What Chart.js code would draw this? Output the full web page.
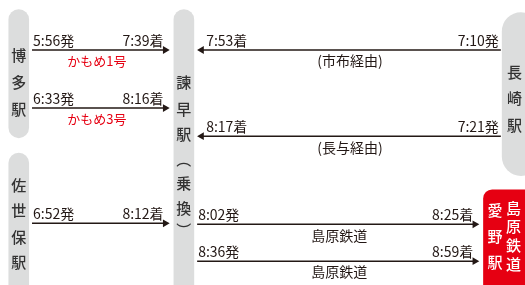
<!DOCTYPE html>
<html>
<head>
<meta charset="utf-8">
<script src="https://cdn.jsdelivr.net/npm/chart.js@4.4.1/dist/chart.umd.min.js"></script>
<style>
  html, body { margin: 0; padding: 0; background: #fff; }
  canvas { display: block; }
</style>
</head>
<body>
<canvas id="routeChart" width="525" height="285"></canvas>
<script>
// 乗り継ぎデータ
const tripFrom    = ['博多駅', '博多駅', '佐世保駅', '長崎駅', '長崎駅', '諫早駅', '諫早駅'];
const tripTo      = ['諫早駅', '諫早駅', '諫早駅', '諫早駅', '諫早駅', '愛野駅', '愛野駅'];
const departTimes = ['5:56', '6:33', '6:52', '7:10', '7:21', '8:02', '8:36'];
const arriveTimes = ['7:39', '8:16', '8:12', '7:53', '8:17', '8:25', '8:59'];
const tripNotes   = ['かもめ1号', 'かもめ3号', '', '(市布経由)', '(長与経由)', '島原鉄道', '島原鉄道'];
const noteIsTrain = [true, true, false, false, false, false, false];

// 駅名（縦書き）
const stationNames = ['博多駅', '佐世保駅', '諫早駅（乗換）', '長崎駅', '愛野駅'];
const lineName = '島原鉄道';

// レイアウト（描画位置・大きさ）
const boxes = {
  '博多駅':   { x0: 4,   x1: 25,  y0: 5,   y1: 138, chars: [52, 80, 108] },
  '佐世保駅': { x0: 4,   x1: 25,  y0: 153, y1: 300, chars: [187, 213, 240, 266] },
  '諫早駅（乗換）': { x0: 172, x1: 193, y0: 5, y1: 300, chars: [80, 108, 134, 160, 185, 210, 233] },
  '長崎駅':   { x0: 506, x1: 545, y0: 8,   y1: 177, chars: [70, 97, 125], cx: 519 },
  '愛野駅':   { x0: 487, x1: 545, y0: 191, y1: 300, chars: [212, 239, 266], cx: 499, red: true }
};
const lineNameChars = [210, 229, 249, 268];
const rowY = [47, 107, 226, 47, 136, 227, 265];

const INK = '#231815';
const RED = '#e60012';
const GRAY = '#dcdddd';
const FONT = '"Noto Sans CJK JP", "Noto Sans", sans-serif';

function boxOf(name) {
  return name === '諫早駅' ? boxes['諫早駅（乗換）'] : boxes[name];
}

// 矢印（線＋三角）を作る
const datasets = departTimes.map((t, i) => {
  const a = boxOf(tripFrom[i]);
  const b = boxOf(tripTo[i]);
  const rightward = b.x0 > a.x0;
  const startX = rightward ? a.x1 + 3 : a.x0 - 1;
  const tipX = rightward ? b.x0 - 4 : b.x1 + 3;
  const r = 4.5;
  const endX = rightward ? tipX - r : tipX + r;
  return {
    label: tripFrom[i] + '→' + tripTo[i],
    data: [{ x: startX, y: rowY[i] }, { x: endX, y: rowY[i] }],
    borderColor: INK,
    backgroundColor: INK,
    borderWidth: 1.5,
    pointStyle: 'triangle',
    pointRadius: [0, r],
    pointBorderWidth: 0,
    pointRotation: rightward ? 90 : -90,
    tension: 0,
    rightward: rightward,
    startX: startX,
    tipX: tipX
  };
});

const diagramPlugin = {
  id: 'diagram',
  beforeDatasetsDraw(chart) {
    const ctx = chart.ctx;
    const xs = chart.scales.x, ys = chart.scales.y;
    ctx.save();
    Object.values(boxes).forEach(b => {
      const x0 = xs.getPixelForValue(b.x0), x1 = xs.getPixelForValue(b.x1);
      const y0 = ys.getPixelForValue(b.y0), y1 = ys.getPixelForValue(b.y1);
      ctx.fillStyle = b.red ? RED : GRAY;
      ctx.beginPath();
      ctx.roundRect(x0, y0, x1 - x0, y1 - y0, b.red ? 9 : (x1 - x0) / 2);
      ctx.fill();
    });
    ctx.restore();
  },
  afterDatasetsDraw(chart) {
    const ctx = chart.ctx;
    const xs = chart.scales.x, ys = chart.scales.y;
    ctx.save();

    // 駅名
    ctx.textAlign = 'center';
    ctx.textBaseline = 'middle';
    stationNames.forEach(name => {
      const b = boxes[name];
      const cx = xs.getPixelForValue(b.cx !== undefined ? b.cx : (b.x0 + b.x1) / 2);
      const chars = Array.from(name.replace('（', '︵').replace('）', '︶'));
      ctx.fillStyle = b.red ? '#fff' : '#333';
      ctx.font = '500 15px ' + FONT;
      chars.forEach((ch, k) => ctx.fillText(ch, cx, ys.getPixelForValue(b.chars[k])));
    });
    ctx.fillStyle = '#fff';
    Array.from(lineName).forEach((ch, k) => ctx.fillText(ch, xs.getPixelForValue(518), ys.getPixelForValue(lineNameChars[k])));

    // 時刻と列車名
    chart.data.datasets.forEach((ds, i) => {
      const y = ys.getPixelForValue(rowY[i]);
      const sx = xs.getPixelForValue(ds.startX);
      const tx = xs.getPixelForValue(ds.tipX);
      ctx.font = '14px ' + FONT;
      ctx.fillStyle = INK;
      ctx.textBaseline = 'alphabetic';
      const dep = departTimes[i] + '発', arr = arriveTimes[i] + '着';
      if (ds.rightward) {
        ctx.textAlign = 'left';
        ctx.fillText(dep, sx + 1, y - 4);
        ctx.textAlign = 'right';
        ctx.fillText(arr, tx - 6, y - 4);
      } else {
        ctx.textAlign = 'right';
        ctx.fillText(dep, sx - 2, y - 4);
        ctx.textAlign = 'left';
        ctx.fillText(arr, tx + 9, y - 4);
      }
      if (tripNotes[i]) {
        ctx.textAlign = 'center';
        ctx.textBaseline = 'middle';
        ctx.fillStyle = noteIsTrain[i] ? RED : INK;
        ctx.font = (noteIsTrain[i] ? '13px ' : '14px ') + FONT;
        const mid = (sx + tx) / 2 + (noteIsTrain[i] ? -4 : 1);
        ctx.fillText(tripNotes[i], mid, y + 11);
      }
    });
    ctx.restore();
  }
};

new Chart(document.getElementById('routeChart'), {
  type: 'line',
  data: { datasets: datasets },
  options: {
    responsive: false,
    animation: false,
    devicePixelRatio: 1,
    layout: { padding: 0 },
    parsing: false,
    scales: {
      x: { type: 'linear', min: 0, max: 525, display: false },
      y: { type: 'linear', min: 0, max: 285, reverse: true, display: false }
    },
    plugins: {
      legend: { display: false },
      tooltip: { enabled: false }
    }
  },
  plugins: [diagramPlugin]
});
</script>
</body>
</html>
